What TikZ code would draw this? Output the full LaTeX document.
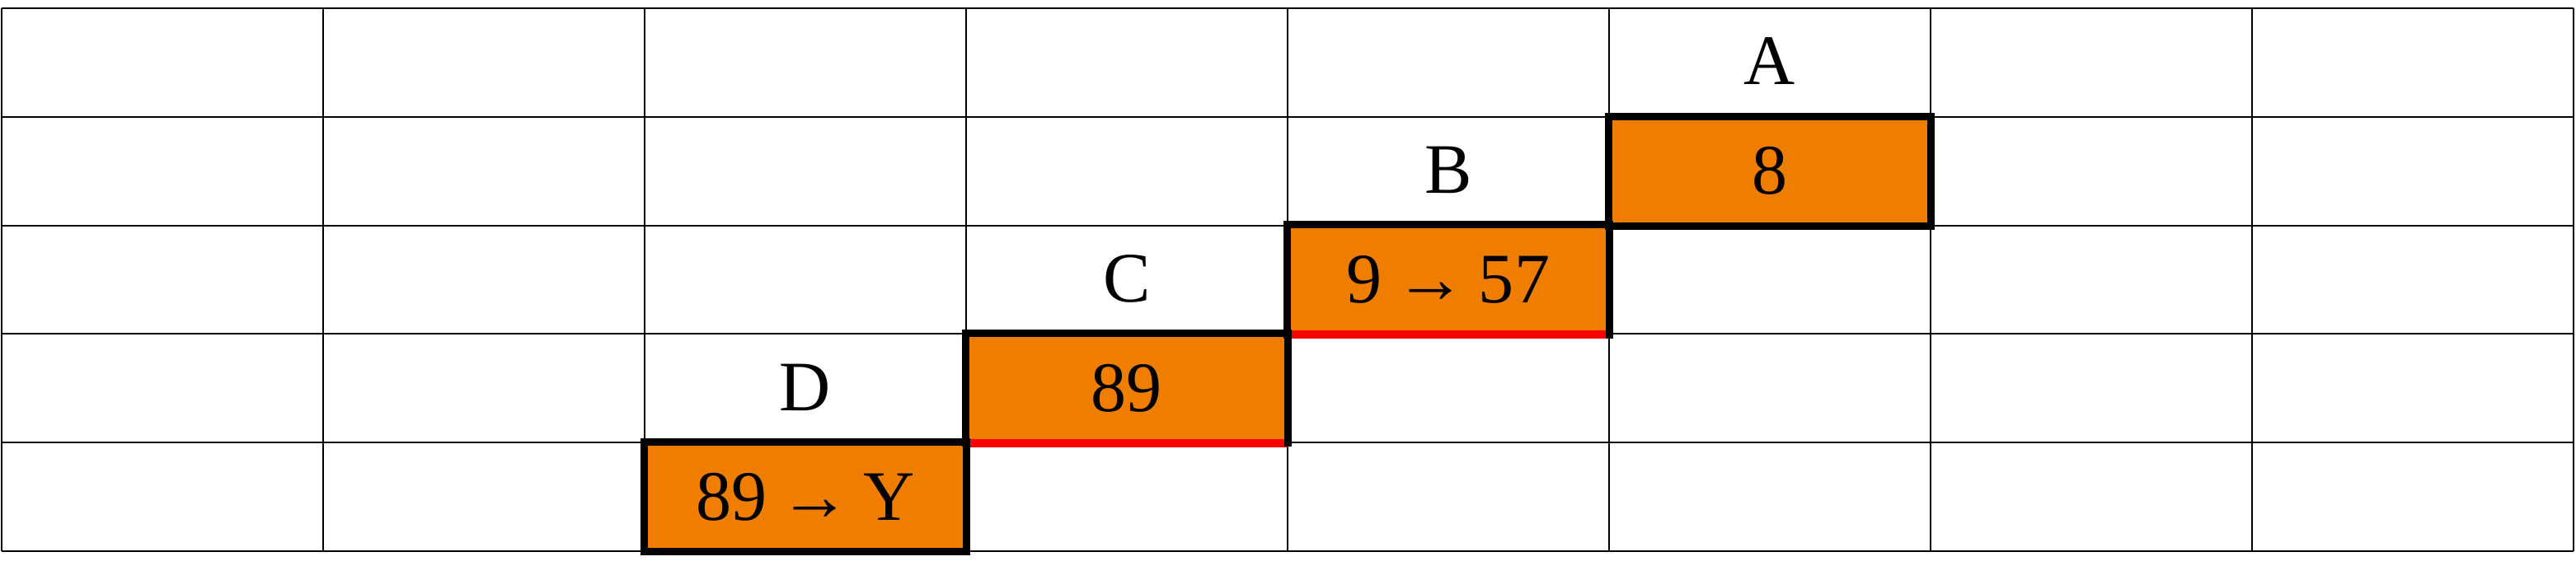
\documentclass[tikz,border=0pt]{standalone}
\usepackage{fontspec}
\setmainfont{Liberation Serif}
\usepackage{xcolor}
\usepackage{tikz}
\usetikzlibrary{positioning}
\definecolor{cellc}{HTML}{EE7D00}
\definecolor{redc}{HTML}{FF0000}
\newcommand{\gap}{\hspace{0.18em}}
\tikzset{
  gridln/.style={black,line width=0.55pt},
  edge/.style={black,line width=2.6pt,line cap=rect},
  redge/.style={redc,line width=2.7pt},
  cellbox/.style={fill=cellc,minimum width=3.9cm,minimum height=1.318cm,inner sep=0pt,
    font=\fontsize{24.5}{29}\selectfont},
  lbl/.style={inner sep=0pt,font=\fontsize{24.5}{29}\selectfont}
}
\begin{document}
\begin{tikzpicture}[x=3.9cm,y=1.318cm]
\useasboundingbox (-0.005,-0.258) rectangle (8.0077,5.076);
\draw[gridln] (0,0) grid[xstep=3.9cm,ystep=1.318cm] (8,5);
% orange cells
\node[cellbox] (boxa) at (5.5,3.5) {8};
\node[cellbox] (boxb) at (4.5,2.5) {9\gap→\gap57};
\node[cellbox] (boxc) at (3.5,1.5) {89};
\node[cellbox] (boxd) at (2.5,0.5) {89\gap→\gap Y};
% labels above
\node[lbl,above=0pt of boxa.north,minimum height=1.318cm] (laba) {A};
\node[lbl,above=0pt of boxb.north,minimum height=1.318cm] (labb) {B};
\node[lbl,above=0pt of boxc.north,minimum height=1.318cm] (labc) {C};
\node[lbl,above=0pt of boxd.north,minimum height=1.318cm] (labd) {D};
% borders
\draw[redge] (boxb.south west) -- (boxb.south east);
\draw[redge] (boxc.south west) -- (boxc.south east);
\draw[edge] (boxa.south west) rectangle (boxa.north east);
\draw[edge] (boxb.south west) -- (boxb.north west) -- (boxb.north east) -- (boxb.south east);
\draw[edge] (boxc.south west) -- (boxc.north west) -- (boxc.north east) -- (boxc.south east);
\draw[edge] (boxd.south west) rectangle (boxd.north east);
\end{tikzpicture}
\end{document}
